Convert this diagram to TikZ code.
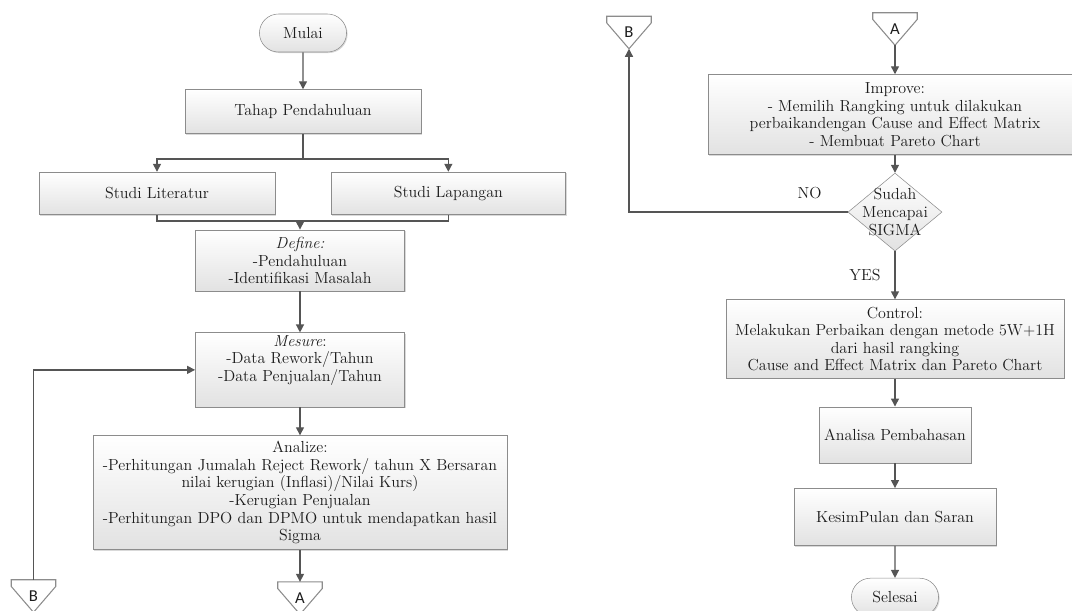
\documentclass[tikz,border=0pt]{standalone}
\usepackage{fontspec}
\newfontfamily\connfont{Carlito}
\usetikzlibrary{positioning, shapes.misc, shapes.geometric, arrows.meta, shadows}

\definecolor{edgegray}{HTML}{8C8C8C}
\definecolor{linegray}{HTML}{555555}
\definecolor{fillgray}{HTML}{E2E2E2}
\definecolor{textgray}{HTML}{1C1C1C}

\begin{document}
\begin{tikzpicture}[
        x=0.75pt, y=-0.75pt,
        every node/.style={text=textgray, font=\fontsize{12}{13.2}\selectfont},
        processbox/.style={rectangle, draw=edgegray, top color=white, bottom color=fillgray, align=center, inner sep=2pt, drop shadow={shadow xshift=0.8pt, shadow yshift=-0.8pt, opacity=0.3}},
        terminal/.style={rounded rectangle, draw=edgegray, top color=white, bottom color=fillgray, minimum width=72pt, minimum height=28.5pt, drop shadow={shadow xshift=0.8pt, shadow yshift=-0.8pt, opacity=0.3}},
        decision/.style={diamond, draw=edgegray, top color=white, bottom color=fillgray, minimum width=70.5pt, minimum height=58.5pt, inner sep=0pt},
        offpage/.style={rectangle, minimum width=33pt, minimum height=24pt, inner sep=0pt, font=\connfont\fontsize{12.5}{14}\selectfont},
        offline/.style={draw=edgegray, line width=0.8pt, line join=miter},
        arrow/.style={draw=linegray, line width=1pt, -{Triangle[length=6pt, width=6pt]}},
        line/.style={draw=linegray, line width=1pt},
        ]
        \useasboundingbox (0,0) rectangle (1072,611);

        %Nodes (left column)
        \node[terminal]                                                (mulai)      at (303,33)                                 {Mulai};
        \node[processbox, minimum width=177pt, minimum height=33pt]    (tahap)      [below=27.75pt of mulai]                    {Tahap Pendahuluan};
        \node[processbox, minimum width=177pt, minimum height=32pt]    (literatur)  [below=28.5pt of tahap, xshift=-109.5pt]    {Studi Literatur};
        \node[processbox, minimum width=176pt, minimum height=32pt]    (lapangan)   [below=28.5pt of tahap, xshift=109pt]       {Studi Lapangan};
        \node[processbox, minimum width=157pt, minimum height=46pt]    (define)     at (300,260.5)                              {\textit{Define:}\\-Pendahuluan\\-Identifikasi Masalah};
        \node[processbox, minimum width=157pt, minimum height=54pt]    (mesure)     [below=30.75pt of define]                   {\textit{Mesure}:\\-Data Rework/Tahun\\-Data Penjualan/Tahun\\\strut};
        \node[processbox, minimum width=310.5pt, minimum height=85.5pt] (analize)   [below=21pt of mesure]                      {Analize:\\-Perhitungan Jumalah Reject Rework/ tahun X Bersaran\\nilai kerugian (Inflasi)/Nilai Kurs)\\-Kerugian Penjualan\\-Perhitungan DPO dan DPMO untuk mendapatkan hasil\\Sigma};
        \node[offpage]                                                 (aleft)      [below=24pt of analize]                     {A};
        \node[offpage]                                                 (bleft)      at (33.5,596)                               {B};

        %Nodes (right column)
        \node[offpage]                                                 (aright)     at (895,29)                                 {A};
        \node[offpage]                                                 (bright)     at (629,32.5)                               {B};
        \node[processbox, minimum width=280.5pt, minimum height=60pt]  (improve)    [below=21.75pt of aright]                   {Improve:\\- Memilih Rangking untuk dilakukan\\perbaikandengan Cause and Effect Matrix\\- Membuat Pareto Chart};
        \node[decision, label={[align=center]center:Sudah\\Mencapai\\SIGMA}] (sigma) [below=13.5pt of improve]                {};
        \node[processbox, minimum width=253.5pt, minimum height=59pt]  (control)    [below=36pt of sigma]                       {Control:\\Melakukan Perbaikan dengan metode 5W+1H\\dari hasil rangking\\Cause and Effect Matrix dan Pareto Chart};
        \node[processbox, minimum width=114pt, minimum height=42pt]    (analisa)    [below=21pt of control]                     {Analisa Pembahasan};
        \node[processbox, minimum width=151.5pt, minimum height=43pt]  (kesimpulan) [below=18.75pt of analisa]                  {KesimPulan dan Saran};
        \node[terminal]                                                (selesai)    [below=24pt of kesimpulan]                  {Selesai};

        %Off-page connector outlines
        \foreach \conn in {aleft,bleft,aright,bright}
            \draw[offline] (\conn.north west) -- (\conn.north east) -- ([yshift=-5pt]\conn.north east)
                -- (\conn.south) -- ([yshift=-5pt]\conn.north west) -- cycle;

        %Lines
        \coordinate (split) at (303,159);
        \coordinate (join)  at (300,221);
        \draw[arrow] (mulai) -- (tahap);
        \draw[line]  (tahap) -- (split);
        \draw[arrow] (split) -| (literatur);
        \draw[arrow] (split) -| (lapangan);
        \draw[line]  (literatur.south) |- (join) -| (lapangan.south);
        \draw[arrow] (join) -- (define);
        \draw[arrow] (define) -- (mesure);
        \draw[arrow] (mesure) -- (analize);
        \draw[arrow] (analize) -- (aleft);
        \draw[arrow] (bleft) |- (mesure);

        \draw[arrow] (aright) -- (improve);
        \draw[arrow] (improve) -- (sigma);
        \draw[arrow] (sigma) -| node[pos=0.087, above=6pt] {NO} (bright);
        \draw[arrow] (sigma) -- node[midway, left=7pt] {YES} (control);
        \draw[arrow] (control) -- (analisa);
        \draw[arrow] (analisa) -- (kesimpulan);
        \draw[arrow] (kesimpulan) -- (selesai);
\end{tikzpicture}
\end{document}
